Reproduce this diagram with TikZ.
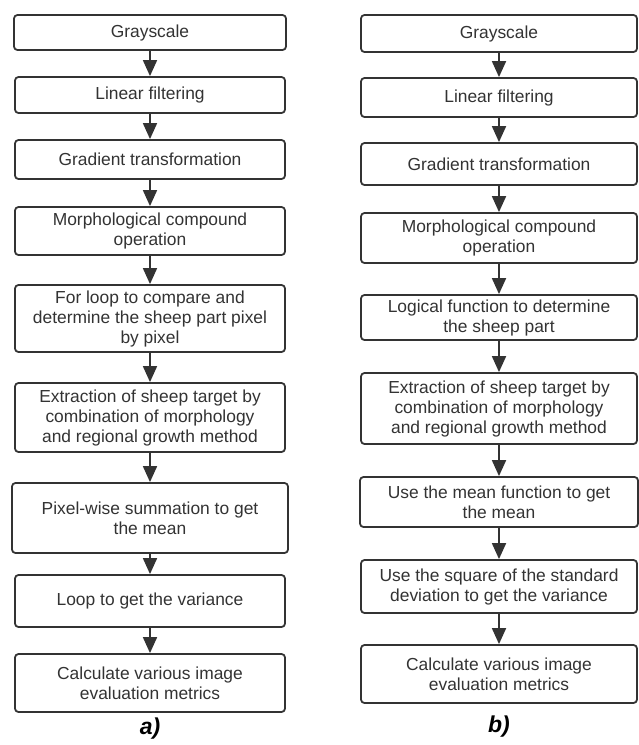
\documentclass[tikz,border=0pt]{standalone}
\usepackage{fontspec}
\setmainfont{Liberation Sans}
\usetikzlibrary{arrows.meta}
\definecolor{ink}{HTML}{333333}
\tikzset{
  stepbox/.style={draw=ink, line width=1.8pt, rounded corners=3.5pt, inner sep=0pt,
    align=center, text=ink, font=\fontsize{17.4}{20}\selectfont, fill=white},
  arr/.style={draw=ink, line width=1.8pt, -{Triangle[length=16pt,width=14pt]}},
  sublabel/.style={font=\fontsize{23}{26}\selectfont\bfseries\itshape, text=black}
}
\newcommand{\bx}[6]{\node[stepbox, minimum width=#4pt, minimum height=#5pt] (#1) at (#2,#3) {#6};}
\begin{document}
\begin{tikzpicture}[x=1pt,y=-1pt]
\useasboundingbox (0,0) rectangle (638,745);
% left column (center x = 150)
\bx{a1}{150}{32.5}{272}{35}{Grayscale}
\bx{a2}{150}{95}{270}{36}{Linear filtering}
\bx{a3}{150}{159.5}{270}{39}{Gradient transformation}
\bx{a4}{150}{231}{270}{48}{Morphological compound\\operation}
\bx{a5}{150}{318.5}{270}{67}{For loop to compare and\\determine the sheep part pixel\\by pixel}
\bx{a6}{150}{417.5}{270}{69}{Extraction of sheep target by\\combination of morphology\\and regional growth method}
\bx{a7}{150}{518}{276}{70}{Pixel-wise summation to get\\the mean}
\bx{a8}{150}{601}{270}{52}{Loop to get the variance}
\bx{a9}{150}{683}{270}{58}{Calculate various image\\evaluation metrics}
\node[sublabel] (la) at (150,729) {a)};
% right column (center x = 499)
\bx{b1}{499}{33.5}{276}{37}{Grayscale}
\bx{b2}{499}{97.5}{276}{39}{Linear filtering}
\bx{b3}{499}{164}{276}{42}{Gradient transformation}
\bx{b4}{499}{238}{276}{50}{Morphological compound\\operation}
\bx{b5}{499}{317.5}{276}{45}{Logical function to determine\\the sheep part}
\bx{b6}{499}{408.5}{276}{71}{Extraction of sheep target by\\combination of morphology\\and regional growth method}
\bx{b7}{499}{502}{278}{50}{Use the mean function to get\\the mean}
\bx{b8}{499}{586.5}{276}{53}{Use the square of the standard\\deviation to get the variance}
\bx{b9}{499}{674}{276}{58}{Calculate various image\\evaluation metrics}
\node[sublabel] (lb) at (499,727) {b)};
% connectors
\foreach \p/\q in {a1/a2,a2/a3,a3/a4,a4/a5,a5/a6,a6/a7,a7/a8,a8/a9,
                   b1/b2,b2/b3,b3/b4,b4/b5,b5/b6,b6/b7,b7/b8,b8/b9}
  \draw[arr] (\p.south) -- (\q.north);
\end{tikzpicture}
\end{document}
